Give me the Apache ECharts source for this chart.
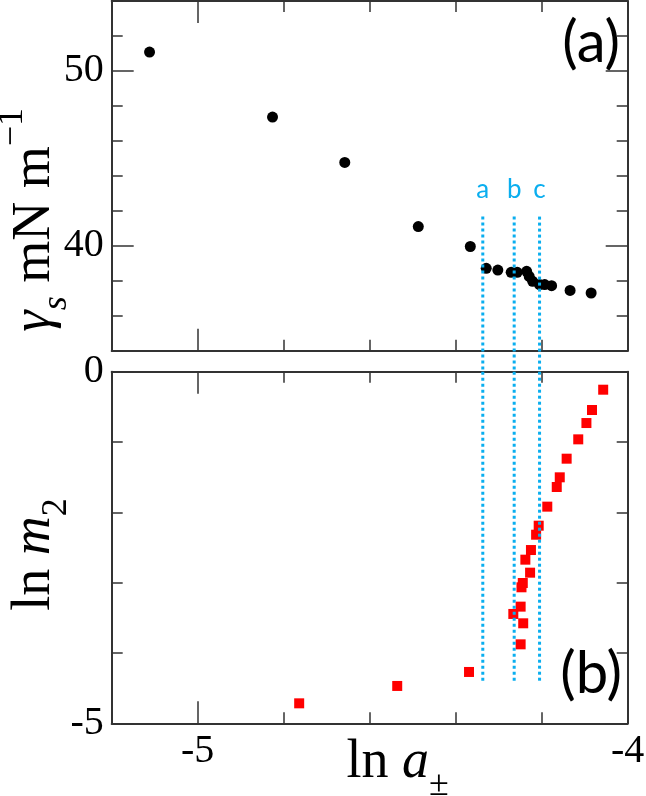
<!DOCTYPE html>
<html><head><meta charset="utf-8">
<script src="https://cdn.jsdelivr.net/npm/echarts@6/dist/echarts.min.js"></script>
<style>html,body{margin:0;padding:0;background:#fff}#c{width:646px;height:796px}</style>
</head><body><div id="c"></div>
<script>
// ---- data ----
const topX = [-5.112, -4.826, -4.658, -4.487, -4.366, -4.329, -4.302, -4.271, -4.257, -4.235, -4.229, -4.221, -4.205, -4.193, -4.177, -4.134, -4.085];
const topY = [51.08, 47.36, 44.77, 41.10, 39.96, 38.71, 38.61, 38.48, 38.48, 38.54, 38.25, 37.97, 37.78, 37.78, 37.72, 37.45, 37.30];
const botX = [-4.764, -4.536, -4.369, -4.249, -4.243, -4.266, -4.249, -4.247, -4.244, -4.227, -4.238, -4.225, -4.213, -4.207, -4.187, -4.165, -4.158, -4.142, -4.115, -4.096, -4.083, -4.057];
const botY = [-4.716, -4.469, -4.270, -3.877, -3.578, -3.445, -3.341, -3.066, -3.005, -2.858, -2.673, -2.536, -2.318, -2.190, -1.919, -1.640, -1.502, -1.237, -0.962, -0.730, -0.545, -0.256];
const lineX = [-4.337, -4.264, -4.205];
const lineLetters = ['a', 'b', 'c'];
const lineTopStart = 41.67, lineTopEnd = 32.8;   // in panel (a) units (continues through gap)
const lineBotStart = 0, lineBotEnd = -4.41;      // in panel (b) units
const xMajor = [-5, -4];
const yTopMajor = [40, 50];
const yBotMajor = [-5, 0];

const AX = '#333';
const SERIF = 'Liberation Serif';
const SANS = 'Lato';
const BLUE = '#0AAEEF';

const rich = {
  n: {fontFamily: SERIF, fontSize: 54, lineHeight: 80, color: '#000'},
  i: {fontFamily: SERIF, fontStyle: 'italic', fontSize: 54, lineHeight: 80, color: '#000'},
  sub: {fontFamily: SERIF, fontSize: 36, lineHeight: 36, verticalAlign: 'bottom', color: '#000'},
  subi: {fontFamily: SERIF, fontStyle: 'italic', fontSize: 36, lineHeight: 36, verticalAlign: 'bottom', color: '#000'},
  sup: {fontFamily: SERIF, fontSize: 36, lineHeight: 36, verticalAlign: 'top', color: '#000'}
};

function shortAxis(gi, pos, min, max, interval) {
  return {type: 'value', gridIndex: gi, position: pos, min, max, interval,
    axisLine: {show: true, onZero: false, lineStyle: {color: AX, width: 2}},
    axisTick: {show: true, inside: true, length: 11, lineStyle: {color: AX, width: 1.5}},
    axisLabel: {show: false}, splitLine: {show: false}};
}
function longAxis(gi, pos, min, max, major, showLabels, extra) {
  return Object.assign({type: 'value', gridIndex: gi, position: pos, min, max,
    axisLine: {show: false, onZero: false},
    axisTick: {show: true, inside: true, length: 22, customValues: major, lineStyle: {color: AX, width: 1.5}},
    axisLabel: {show: showLabels, customValues: major, fontFamily: SERIF, fontSize: 40, color: '#000', margin: 8},
    splitLine: {show: false}}, extra || {});
}

const xAxis = [
  shortAxis(0, 'bottom', -5.2, -4, 0.2),
  longAxis(0, 'bottom', -5.2, -4, xMajor, false),
  shortAxis(0, 'top', -5.2, -4, 0.2),
  longAxis(0, 'top', -5.2, -4, xMajor, false),
  shortAxis(1, 'bottom', -5.2, -4, 0.2),
  longAxis(1, 'bottom', -5.2, -4, xMajor, true, {
    name: '{n|ln }{i|a}{sub|±}', nameLocation: 'middle', nameGap: 0, nameMoveOverlap: false,
    nameTextStyle: {rich, padding: [0, 0, 0, 56]}
  }),
  shortAxis(1, 'top', -5.2, -4, 0.2),
  longAxis(1, 'top', -5.2, -4, xMajor, false)
];
const yAxis = [
  shortAxis(0, 'left', 34, 54, 2),
  longAxis(0, 'left', 34, 54, yTopMajor, true, {
    name: '{i|γ}{subi|s}{n| mN m}{sup|−1}', nameLocation: 'middle', nameRotate: 90, nameGap: 37, nameMoveOverlap: false,
    nameTextStyle: {rich, padding: [0, 88, 0, 0]}
  }),
  shortAxis(0, 'right', 34, 54, 2),
  longAxis(0, 'right', 34, 54, yTopMajor, false),
  shortAxis(1, 'left', -5, 0, 1),
  longAxis(1, 'left', -5, 0, yBotMajor, true, {
    name: '{n|ln }{i|m}{sub|2}', nameLocation: 'middle', nameRotate: 90, nameGap: 37, nameMoveOverlap: false,
    nameTextStyle: {rich, padding: [0, 14, 0, 0]}
  }),
  shortAxis(1, 'right', -5, 0, 1),
  longAxis(1, 'right', -5, 0, yBotMajor, false)
];

const series = [
  {type: 'scatter', xAxisIndex: 0, yAxisIndex: 0, symbol: 'circle', symbolSize: 11,
    itemStyle: {color: '#000', opacity: 1}, data: topX.map((x, i) => [x, topY[i]]), z: 2},
  {type: 'scatter', xAxisIndex: 4, yAxisIndex: 4, symbol: 'rect', symbolSize: 10,
    itemStyle: {color: '#ff0000', opacity: 1}, data: botX.map((x, i) => [x, botY[i]]), z: 2}
];
lineX.forEach((x, k) => {
  series.push({type: 'line', xAxisIndex: 0, yAxisIndex: 0, clip: false, z: 5,
    symbol: 'circle', symbolSize: 0, showSymbol: true,
    lineStyle: {color: BLUE, width: 3, type: [3, 3]},
    data: [
      {value: [x, lineTopStart], label: {show: true, position: 'top', distance: 14, formatter: lineLetters[k],
        fontFamily: SANS, fontSize: 26, color: BLUE}},
      [x, lineTopEnd]
    ]});
  series.push({type: 'line', xAxisIndex: 4, yAxisIndex: 4, clip: false, z: 5,
    symbol: 'none', lineStyle: {color: BLUE, width: 3, type: [3, 3]},
    data: [[x, lineBotStart], [x, lineBotEnd]]});
});

const option = {
  animation: false,
  backgroundColor: '#fff',
  grid: [
    {left: 111.7, right: 18.3, top: 1, height: 349.7, containLabel: false, outerBoundsMode: 'none'},
    {left: 111.7, right: 18.3, top: 371.7, height: 351.6, containLabel: false, outerBoundsMode: 'none'}
  ],
  xAxis, yAxis, series,
  graphic: [
    {type: 'text', right: 26, top: 14, style: {text: '(a)', font: '58px Lato', fill: '#000'}},
    {type: 'text', right: 24, top: 645, style: {text: '(b)', font: '58px Lato', fill: '#000'}}
  ]
};
const chart = echarts.init(document.getElementById('c'));
chart.setOption(option);
</script></body></html>
